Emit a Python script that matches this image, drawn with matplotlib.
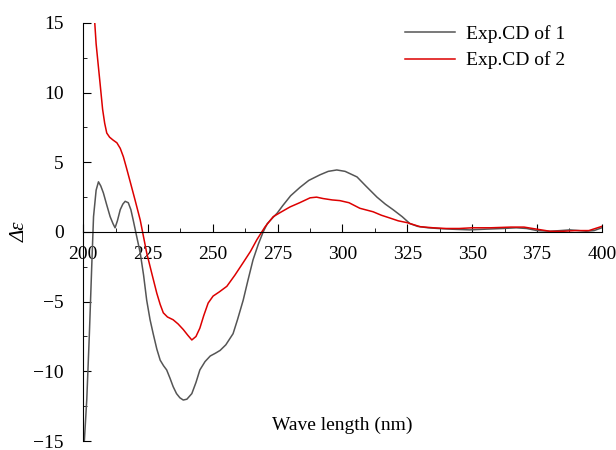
import numpy as np
import matplotlib
matplotlib.use('Agg')
import matplotlib.pyplot as plt
from matplotlib.ticker import MultipleLocator

plt.rcParams['font.family'] = ['Liberation Serif', 'DejaVu Serif']
plt.rcParams['font.size'] = 14

# Exp.CD of 1 (gray)
wl1 = [200.3, 201.4, 202.4, 203.3, 204.0, 205.0, 205.9, 206.8, 207.8, 209.0,
       210.4, 211.5, 212.3, 213.2, 214.3, 215.3, 216.2, 217.4, 218.4, 219.3,
       220.5, 222.0, 223.3, 224.5, 225.8, 227.0, 228.4, 229.7, 231.0, 232.2,
       233.5, 234.7, 236.0, 237.3, 238.6, 240.0, 241.9, 243.5, 245.0, 247.0,
       249.0, 251.0, 252.8, 255.0, 257.8, 259.5, 261.7, 263.5, 265.5, 267.5,
       269.4, 271.0, 273.0, 274.8, 277.0, 280.0, 283.6, 287.0, 291.3, 294.5,
       297.8, 301.0, 305.6, 309.0, 313.3, 316.5, 319.5, 323.0, 326.0, 329.0,
       333.0, 337.6, 342.0, 349.0, 355.0, 362.0, 367.0, 371.0, 375.0, 380.0,
       384.0, 387.7, 391.0, 394.0, 397.0, 400.0]
cd1 = [-15.5, -12.0, -7.3, -2.5, 1.1, 3.0, 3.6, 3.3, 2.8, 2.0,
       1.1, 0.6, 0.3, 0.8, 1.6, 2.0, 2.2, 2.1, 1.6, 0.85,
       -0.2, -1.5, -3.1, -4.9, -6.3, -7.3, -8.4, -9.2, -9.6, -9.9,
       -10.5, -11.1, -11.6, -11.9, -12.06, -12.0, -11.6, -10.8, -9.9, -9.3,
       -8.9, -8.7, -8.5, -8.1, -7.3, -6.3, -4.9, -3.5, -2.0, -0.9,
       0.0, 0.6, 1.0, 1.35, 1.9, 2.6, 3.2, 3.7, 4.1, 4.35,
       4.45, 4.35, 3.95, 3.3, 2.5, 2.0, 1.6, 1.1, 0.6, 0.4,
       0.3, 0.24, 0.2, 0.15, 0.2, 0.25, 0.3, 0.25, 0.1, 0.05,
       0.1, 0.15, 0.1, 0.05, 0.1, 0.3]

# Exp.CD of 2 (red)
wl2 = [204.3, 205.0, 205.8, 206.5, 207.5, 208.3, 209.1, 210.2, 211.5, 213.0,
       214.3, 215.5, 216.7, 218.0, 220.0, 222.0, 224.5, 226.5, 228.4, 229.7,
       230.9, 232.5, 234.7, 236.6, 238.6, 240.3, 241.9, 243.5, 245.0, 246.5,
       248.2, 250.1, 252.5, 255.4, 258.5, 261.7, 264.5, 267.0, 270.1, 273.3,
       276.5, 279.8, 283.5, 287.5, 290.0, 292.5, 296.0, 299.0, 302.5, 306.7,
       311.8, 315.0, 318.3, 321.5, 324.9, 329.9, 335.0, 340.0, 345.0, 350.0,
       357.0, 365.0, 370.0, 375.0, 380.0, 385.0, 390.0, 395.0, 400.0]
cd2 = [15.5, 13.5, 12.0, 10.7, 8.8, 7.8, 7.1, 6.8, 6.6, 6.4,
       6.0, 5.4, 4.6, 3.7, 2.3, 0.86, -1.5, -3.0, -4.4, -5.2,
       -5.8, -6.1, -6.3, -6.6, -7.0, -7.4, -7.75, -7.5, -6.9, -6.0,
       -5.1, -4.6, -4.3, -3.9, -3.1, -2.2, -1.4, -0.55, 0.36, 1.1,
       1.45, 1.8, 2.1, 2.45, 2.5, 2.4, 2.3, 2.25, 2.1, 1.7,
       1.45, 1.2, 1.0, 0.8, 0.67, 0.38, 0.3, 0.25, 0.25, 0.3,
       0.3, 0.35, 0.35, 0.2, 0.05, 0.05, 0.1, 0.1, 0.4]

fig = plt.figure(figsize=(6.16, 4.5), dpi=100)
ax = fig.add_axes([0.135, 0.02, 0.842, 0.929])

ax.plot(wl1, cd1, color='#555555', lw=1.1, label='Exp.CD of 1')
ax.plot(wl2, cd2, color='#dd0000', lw=1.1, label='Exp.CD of 2')

ax.set_xlim(200, 400)
ax.set_ylim(-15, 15)
ax.spines['top'].set_visible(False)
ax.spines['right'].set_visible(False)
ax.spines['bottom'].set_position(('data', 0))

ax.xaxis.set_major_locator(MultipleLocator(25))
ax.xaxis.set_minor_locator(MultipleLocator(12.5))
ax.yaxis.set_major_locator(MultipleLocator(5))
ax.yaxis.set_minor_locator(MultipleLocator(2.5))
ax.tick_params(axis='x', which='major', direction='in', length=6, pad=10)
ax.tick_params(axis='x', which='minor', direction='in', length=3)
ax.tick_params(axis='y', which='major', direction='in', length=6, pad=14)
ax.tick_params(axis='y', which='minor', direction='in', length=3)

ax.text(0.5, 0.038, 'Wave length (nm)', transform=ax.transAxes,
        ha='center', va='center')
fig.text(0.033, 0.484, 'Δε', rotation=90, ha='center', va='center',
         fontstyle='italic', fontsize=15)

ax.legend(loc='upper right', frameon=False, handlelength=2.6,
          handletextpad=0.55, bbox_to_anchor=(0.963, 1.036),
          labelspacing=0.42)

fig.savefig('out.png', dpi=100)
